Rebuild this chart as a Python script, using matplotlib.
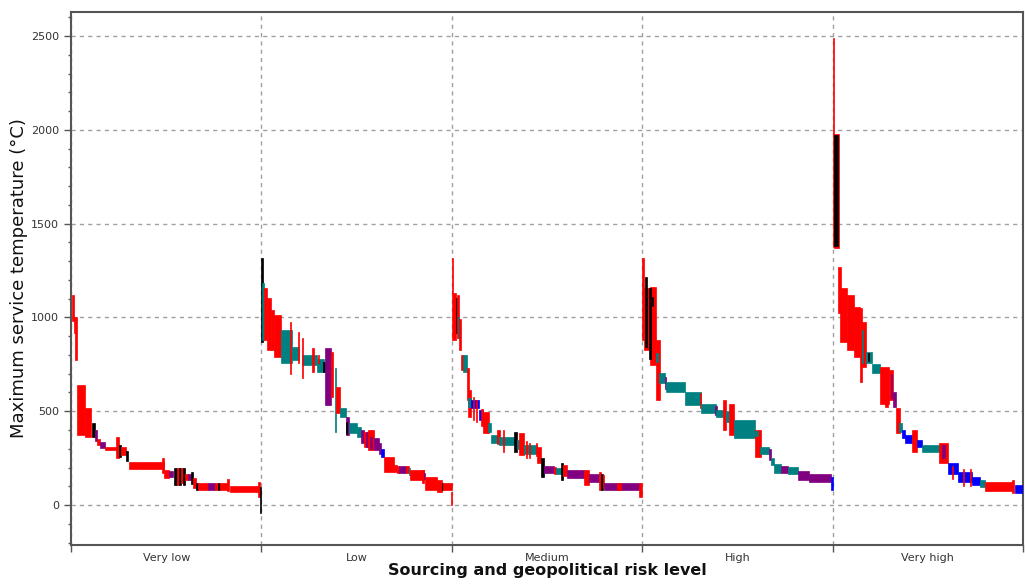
import numpy as np
import matplotlib.pyplot as plt
from matplotlib.ticker import MultipleLocator

categories = ['Very low', 'Low', 'Medium', 'High', 'Very high']
class_colors = {'R': '#ff0000', 'T': '#008080', 'P': '#800080',
                'B': '#0000ff', 'K': '#000000'}

# (rank start %, rank end %, min temp, max temp, material class)
very_low = [
    (0.5, 1.5, 980, 1120, 'R'), (1.5, 2.2, 917, 1003, 'R'), (2.2, 3.0, 773, 1003, 'R'),
    (3.3, 7.1, 373, 640, 'R'), (7.1, 10.6, 362, 517, 'R'), (11.0, 12.5, 362, 437, 'K'),
    (12.5, 13.5, 340, 400, 'P'), (13.5, 15.0, 320, 350, 'R'), (15.0, 17.6, 302, 337, 'P'),
    (17.6, 24.6, 293, 311, 'R'), (23.8, 25.2, 253, 362, 'R'), (25.2, 26.0, 255, 320, 'K'),
    (26.0, 29.0, 265, 310, 'R'), (29.0, 30.0, 235, 290, 'K'), (30.4, 49.0, 192, 231, 'R'),
    (48.0, 49.0, 170, 250, 'R'), (49.0, 51.7, 144, 187, 'R'), (51.7, 53.5, 150, 180, 'P'),
    (54.0, 55.5, 107, 197, 'K'), (55.5, 56.5, 107, 197, 'R'), (56.5, 58.0, 107, 197, 'K'),
    (58.0, 59.0, 120, 197, 'R'), (59.0, 60.0, 107, 197, 'K'), (60.0, 61.5, 133, 165, 'R'),
    (61.5, 63.0, 133, 165, 'P'), (63.0, 64.0, 112, 176, 'K'), (64.0, 65.5, 91, 144, 'R'),
    (65.5, 66.5, 80, 117, 'K'), (66.5, 72.0, 80, 117, 'R'), (72.0, 75.5, 80, 117, 'P'),
    (75.5, 77.0, 80, 117, 'R'), (77.0, 78.0, 80, 117, 'K'), (78.0, 82.2, 80, 117, 'R'),
    (81.8, 83.0, 75, 139, 'R'), (83.4, 98.8, 68, 101, 'R'), (98.0, 99.0, 43, 123, 'R'),
    (99.0, 100.0, -43, 98, 'K'),
]

low = [
    (0.0, 1.0, 870, 1315, 'K'), (0.5, 1.3, 879, 1181, 'T'), (1.3, 3.0, 879, 1155, 'R'),
    (3.0, 5.0, 826, 1101, 'R'), (5.0, 6.6, 826, 1039, 'R'), (6.6, 10.1, 790, 1012, 'R'),
    (10.1, 16.2, 755, 932, 'T'), (15.0, 15.8, 701, 977, 'R'), (16.2, 19.7, 773, 844, 'T'),
    (19.2, 20.0, 755, 924, 'R'), (21.5, 29.3, 746, 799, 'T'), (21.1, 22.0, 675, 888, 'R'),
    (26.7, 27.6, 710, 835, 'R'), (29.3, 32.8, 710, 781, 'T'), (29.8, 30.5, 755, 799, 'R'),
    (32.3, 33.2, 710, 764, 'K'), (33.2, 36.6, 533, 838, 'P'), (36.3, 37.7, 577, 817, 'R'),
    (38.4, 39.4, 390, 728, 'T'), (39.4, 41.5, 488, 630, 'R'), (41.5, 44.2, 470, 515, 'T'),
    (44.2, 45.9, 373, 470, 'P'), (44.5, 45.2, 380, 440, 'K'), (45.9, 50.3, 385, 435, 'T'),
    (50.3, 52.5, 360, 417, 'T'), (52.5, 54.0, 330, 400, 'P'), (54.0, 56.0, 310, 390, 'R'),
    (55.0, 56.0, 310, 390, 'P'), (56.0, 59.0, 293, 400, 'R'), (57.0, 58.0, 300, 360, 'P'),
    (59.0, 61.6, 293, 355, 'P'), (61.6, 63.0, 270, 328, 'P'), (63.0, 64.2, 257, 300, 'B'),
    (64.2, 69.5, 177, 257, 'R'), (69.5, 71.2, 177, 213, 'R'), (71.2, 72.5, 172, 207, 'R'),
    (72.5, 76.0, 172, 207, 'P'), (76.0, 77.3, 172, 207, 'R'), (77.3, 78.2, 160, 195, 'T'),
    (78.2, 85.2, 133, 186, 'R'), (84.5, 85.2, 120, 186, 'R'), (85.2, 86.0, 140, 170, 'P'),
    (86.0, 92.1, 80, 151, 'R'), (92.1, 94.8, 71, 133, 'R'), (94.8, 95.5, 80, 115, 'K'),
    (95.5, 100.0, 80, 115, 'R'), (99.5, 100.0, 0, 71, 'R'),
]

medium = [
    (0.0, 0.6, 879, 1315, 'R'), (0.6, 2.0, 879, 1128, 'R'), (2.0, 2.8, 915, 1101, 'K'),
    (2.8, 4.0, 890, 1120, 'R'), (3.2, 4.0, 888, 1004, 'T'), (4.0, 5.0, 826, 990, 'R'),
    (4.9, 6.6, 719, 799, 'R'), (5.8, 8.0, 710, 799, 'T'), (8.0, 9.0, 559, 728, 'R'),
    (8.4, 10.1, 470, 613, 'R'), (8.7, 10.1, 524, 568, 'T'), (10.1, 14.5, 515, 559, 'B'),
    (11.0, 11.8, 452, 577, 'R'), (12.5, 13.2, 440, 560, 'R'), (14.5, 16.2, 453, 506, 'B'),
    (15.2, 16.2, 420, 510, 'R'), (16.2, 19.7, 382, 497, 'R'), (18.9, 20.6, 391, 435, 'T'),
    (20.6, 25.0, 332, 373, 'T'), (24.0, 25.5, 326, 400, 'R'), (25.0, 33.7, 319, 360, 'T'),
    (26.7, 27.6, 284, 399, 'R'), (32.8, 34.0, 284, 390, 'K'), (34.0, 35.4, 300, 345, 'T'),
    (35.4, 38.0, 266, 382, 'R'), (38.0, 45.0, 271, 319, 'T'), (38.8, 39.5, 250, 340, 'R'),
    (40.5, 41.2, 250, 330, 'R'), (44.0, 44.7, 260, 330, 'R'), (44.7, 46.8, 222, 311, 'R'),
    (46.8, 48.5, 151, 248, 'K'), (48.5, 53.7, 172, 207, 'P'), (53.7, 54.6, 165, 205, 'R'),
    (54.6, 57.2, 168, 200, 'T'), (57.2, 58.5, 133, 222, 'K'), (58.5, 60.7, 155, 215, 'R'),
    (60.7, 69.5, 142, 186, 'P'), (69.5, 72.1, 106, 186, 'R'), (72.1, 77.3, 124, 165, 'P'),
    (77.3, 78.5, 80, 177, 'R'), (78.5, 79.3, 80, 165, 'K'), (79.3, 80.0, 90, 160, 'R'),
    (80.0, 99.1, 80, 115, 'P'), (87.0, 88.7, 80, 118, 'R'), (98.2, 100.0, 44, 115, 'R'),
]

high = [
    (0.0, 0.8, 879, 1315, 'R'), (0.8, 4.0, 826, 1155, 'R'), (1.5, 2.3, 844, 1217, 'K'),
    (4.0, 7.5, 746, 1163, 'R'), (3.5, 4.5, 780, 1155, 'K'), (5.0, 5.5, 1060, 1110, 'K'),
    (7.5, 9.2, 559, 879, 'R'), (7.5, 8.5, 760, 810, 'T'), (8.7, 11.9, 648, 702, 'T'),
    (11.9, 12.7, 620, 680, 'P'), (12.7, 22.3, 604, 657, 'T'), (22.3, 31.1, 533, 604, 'T'),
    (30.2, 31.1, 515, 595, 'R'), (31.1, 38.9, 488, 541, 'T'), (38.5, 39.2, 480, 530, 'P'),
    (38.9, 42.4, 470, 506, 'T'), (42.4, 44.2, 399, 559, 'R'), (44.2, 45.4, 440, 500, 'T'),
    (45.4, 48.0, 373, 541, 'R'), (48.0, 59.3, 355, 453, 'T'), (59.3, 62.5, 257, 399, 'R'),
    (59.5, 61.0, 370, 395, 'T'), (62.1, 66.8, 271, 311, 'T'), (66.8, 67.7, 240, 300, 'P'),
    (67.7, 69.5, 213, 248, 'T'), (69.5, 73.0, 172, 218, 'T'), (73.0, 76.4, 172, 207, 'P'),
    (76.4, 81.7, 165, 204, 'T'), (81.7, 87.8, 133, 183, 'P'), (87.8, 99.1, 124, 165, 'P'),
    (99.1, 100.0, 80, 151, 'B'),
]

very_high = [
    (0.0, 0.9, 1375, 2490, 'R'), (0.6, 3.2, 1370, 1978, 'R'), (1.0, 2.9, 1380, 1970, 'K'),
    (3.1, 4.5, 1021, 1270, 'R'), (4.0, 7.5, 870, 1155, 'R'), (7.5, 11.0, 826, 1119, 'R'),
    (11.0, 14.5, 790, 1057, 'R'), (14.5, 15.4, 657, 1048, 'R'), (15.4, 17.5, 737, 977, 'R'),
    (15.3, 16.0, 755, 932, 'T'), (17.5, 20.6, 755, 817, 'T'), (18.5, 19.3, 770, 810, 'K'),
    (20.6, 25.0, 705, 751, 'T'), (25.0, 29.5, 541, 737, 'R'), (27.5, 29.3, 524, 730, 'R'),
    (29.5, 31.9, 560, 720, 'R'), (30.5, 31.3, 570, 700, 'P'), (31.9, 33.5, 524, 604, 'P'),
    (33.3, 35.4, 382, 515, 'R'), (35.0, 36.3, 391, 435, 'T'), (36.3, 38.0, 355, 399, 'B'),
    (38.0, 41.5, 332, 373, 'B'), (41.5, 44.2, 284, 399, 'R'), (44.2, 46.8, 311, 346, 'B'),
    (46.8, 55.8, 284, 319, 'T'), (55.8, 60.7, 222, 328, 'R'), (57.5, 59.0, 250, 320, 'P'),
    (60.7, 66.0, 168, 222, 'B'), (62.5, 63.5, 140, 210, 'R'), (66.0, 73.0, 124, 177, 'B'),
    (68.5, 69.2, 100, 190, 'R'), (72.0, 72.8, 100, 190, 'R'), (73.0, 77.3, 106, 151, 'B'),
    (77.3, 80.0, 94, 133, 'T'), (80.0, 94.8, 76, 124, 'R'), (94.5, 95.3, 62, 133, 'R'),
    (95.6, 100.0, 62, 106, 'B'),
]

groups = [very_low, low, medium, high, very_high]

fig = plt.figure(figsize=(10.25, 5.85), dpi=100)
ax = fig.add_axes([0.0693, 0.0684, 0.9287, 0.9111])

for i, segs in enumerate(groups):
    for x0, x1, lo, hi, cls in segs:
        c = class_colors[cls]
        ax.bar(i + x0 / 100, hi - lo, width=(x1 - x0) / 100, bottom=lo,
               align='edge', color=c, edgecolor=c, linewidth=0.5, zorder=3)

ax.set_xlim(0, 5)
ax.set_ylim(-213, 2628)

ax.set_xticks(range(6))
ax.set_xticklabels([])
ax.set_xticks(np.arange(0.5, 5, 1), minor=True)
ax.set_xticklabels(categories, minor=True)
ax.tick_params(axis='x', which='major', direction='out', length=5, width=1, color='#555555')
ax.tick_params(axis='x', which='minor', length=0, labelsize=8, labelcolor='#333333', pad=6)

ax.yaxis.set_major_locator(MultipleLocator(500))
ax.yaxis.set_minor_locator(MultipleLocator(100))
ax.tick_params(axis='y', which='major', direction='out', length=5, width=1,
               color='#555555', labelsize=8, labelcolor='#333333')
ax.tick_params(axis='y', which='minor', direction='out', length=2.5, width=1, color='#555555')

ax.grid(True, which='major', color='#a0a0a0', linestyle=(0, (3, 3)), linewidth=1, zorder=1)
ax.set_axisbelow(True)

for sp in ax.spines.values():
    sp.set_color('#555555')
    sp.set_linewidth(1.5)

ax.set_ylabel('Maximum service temperature (°C)', fontsize=13, labelpad=2, color='#111111')
ax.set_xlabel('Sourcing and geopolitical risk level', fontsize=11.5, fontweight='bold',
              labelpad=0, color='#111111')

fig.savefig('out.png', dpi=100)
